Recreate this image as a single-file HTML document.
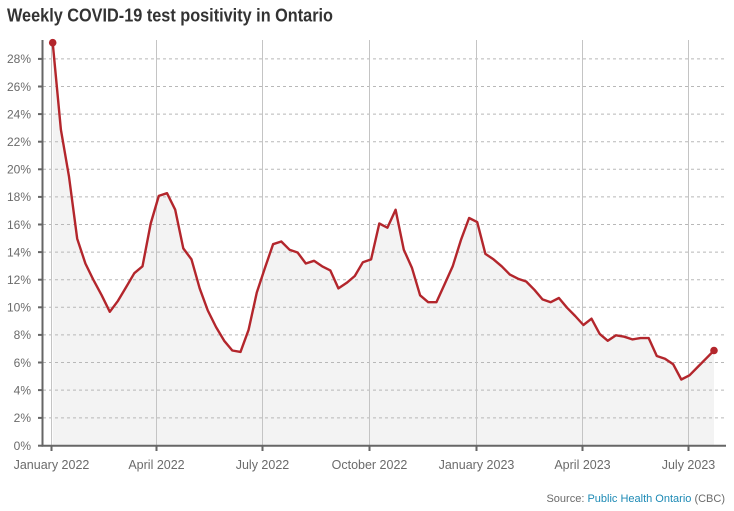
<!DOCTYPE html>
<html><head><meta charset="utf-8"><style>
html,body{margin:0;padding:0;background:#fff;}
svg{display:block;font-family:"Liberation Sans",sans-serif;}
</style></head><body>
<svg width="734" height="511" viewBox="0 0 734 511" xmlns="http://www.w3.org/2000/svg">
<rect width="734" height="511" fill="#fff"/>
<text x="7" y="21.7" font-size="18" font-weight="bold" fill="#333" textLength="326" lengthAdjust="spacingAndGlyphs">Weekly COVID-19 test positivity in Ontario</text>

<polygon fill="#f3f3f3" points="52.7,445.7 52.7,42.7 60.9,129.7 69.0,176.6 77.2,238.7 85.4,263.5 93.5,280.1 101.7,295.3 109.8,311.8 118.0,300.8 126.2,287.0 134.3,273.2 142.5,266.3 150.7,223.5 158.8,195.9 167.0,193.2 175.2,209.7 183.3,248.4 191.5,259.4 199.7,288.4 207.8,310.5 216.0,327.0 224.2,340.8 232.3,350.5 240.5,351.9 248.6,329.8 256.8,292.5 265.0,267.7 273.1,244.2 281.3,241.5 289.5,249.7 297.6,252.5 305.8,263.5 314.0,260.8 322.1,266.3 330.3,270.4 338.4,288.4 346.6,282.9 354.8,276.0 362.9,262.2 371.1,259.4 379.3,223.5 387.4,227.7 395.6,209.7 403.8,249.7 411.9,267.7 420.1,295.3 428.2,302.2 436.4,302.2 444.6,284.2 452.7,266.3 460.9,240.1 469.1,218.0 477.2,222.1 485.4,253.9 493.6,259.4 501.7,266.3 509.9,274.6 518.0,278.7 526.2,281.5 534.4,289.8 542.5,299.4 550.7,302.2 558.9,298.0 567.0,307.7 575.2,316.0 583.4,325.0 591.5,318.7 599.7,333.9 607.8,340.8 616.0,335.3 624.2,336.7 632.3,339.4 640.5,338.1 648.7,338.1 656.8,356.0 665.0,358.8 673.2,364.3 681.3,379.5 689.5,375.3 697.7,367.0 705.8,358.8 714.0,350.5 714.0,445.7"/>

<g stroke="#b8b8b8" stroke-width="1" stroke-dasharray="3,3">
<line x1="43" x2="726" y1="417.9" y2="417.9"/>
<line x1="43" x2="726" y1="390.1" y2="390.1"/>
<line x1="43" x2="726" y1="362.5" y2="362.5"/>
<line x1="43" x2="726" y1="334.9" y2="334.9"/>
<line x1="43" x2="726" y1="307.3" y2="307.3"/>
<line x1="43" x2="726" y1="279.7" y2="279.7"/>
<line x1="43" x2="726" y1="252.1" y2="252.1"/>
<line x1="43" x2="726" y1="224.5" y2="224.5"/>
<line x1="43" x2="726" y1="196.9" y2="196.9"/>
<line x1="43" x2="726" y1="169.3" y2="169.3"/>
<line x1="43" x2="726" y1="141.7" y2="141.7"/>
<line x1="43" x2="726" y1="114.1" y2="114.1"/>
<line x1="43" x2="726" y1="86.5" y2="86.5"/>
<line x1="43" x2="726" y1="58.9" y2="58.9"/>
</g>

<g stroke="#c4c4c4" stroke-width="1">
<line x1="51.5" x2="51.5" y1="40" y2="446"/>
<line x1="156.5" x2="156.5" y1="40" y2="446"/>
<line x1="262.5" x2="262.5" y1="40" y2="446"/>
<line x1="369.5" x2="369.5" y1="40" y2="446"/>
<line x1="476.5" x2="476.5" y1="40" y2="446"/>
<line x1="582.5" x2="582.5" y1="40" y2="446"/>
<line x1="688.5" x2="688.5" y1="40" y2="446"/>
</g>

<polyline fill="none" stroke="#b3262c" stroke-width="2.4" stroke-linejoin="round" points="52.7,42.7 60.9,129.7 69.0,176.6 77.2,238.7 85.4,263.5 93.5,280.1 101.7,295.3 109.8,311.8 118.0,300.8 126.2,287.0 134.3,273.2 142.5,266.3 150.7,223.5 158.8,195.9 167.0,193.2 175.2,209.7 183.3,248.4 191.5,259.4 199.7,288.4 207.8,310.5 216.0,327.0 224.2,340.8 232.3,350.5 240.5,351.9 248.6,329.8 256.8,292.5 265.0,267.7 273.1,244.2 281.3,241.5 289.5,249.7 297.6,252.5 305.8,263.5 314.0,260.8 322.1,266.3 330.3,270.4 338.4,288.4 346.6,282.9 354.8,276.0 362.9,262.2 371.1,259.4 379.3,223.5 387.4,227.7 395.6,209.7 403.8,249.7 411.9,267.7 420.1,295.3 428.2,302.2 436.4,302.2 444.6,284.2 452.7,266.3 460.9,240.1 469.1,218.0 477.2,222.1 485.4,253.9 493.6,259.4 501.7,266.3 509.9,274.6 518.0,278.7 526.2,281.5 534.4,289.8 542.5,299.4 550.7,302.2 558.9,298.0 567.0,307.7 575.2,316.0 583.4,325.0 591.5,318.7 599.7,333.9 607.8,340.8 616.0,335.3 624.2,336.7 632.3,339.4 640.5,338.1 648.7,338.1 656.8,356.0 665.0,358.8 673.2,364.3 681.3,379.5 689.5,375.3 697.7,367.0 705.8,358.8 714.0,350.5"/>
<circle cx="52.7" cy="42.7" r="3.8" fill="#b3262c"/>
<circle cx="714.0" cy="350.5" r="3.8" fill="#b3262c"/>

<g stroke="#666" stroke-width="2">
<line x1="42.5" x2="42.5" y1="40" y2="446.5"/>
<line x1="41.5" x2="726" y1="445.7" y2="445.7"/>
<line x1="38" x2="43" y1="417.9" y2="417.9"/>
<line x1="38" x2="43" y1="390.1" y2="390.1"/>
<line x1="38" x2="43" y1="362.5" y2="362.5"/>
<line x1="38" x2="43" y1="334.9" y2="334.9"/>
<line x1="38" x2="43" y1="307.3" y2="307.3"/>
<line x1="38" x2="43" y1="279.7" y2="279.7"/>
<line x1="38" x2="43" y1="252.1" y2="252.1"/>
<line x1="38" x2="43" y1="224.5" y2="224.5"/>
<line x1="38" x2="43" y1="196.9" y2="196.9"/>
<line x1="38" x2="43" y1="169.3" y2="169.3"/>
<line x1="38" x2="43" y1="141.7" y2="141.7"/>
<line x1="38" x2="43" y1="114.1" y2="114.1"/>
<line x1="38" x2="43" y1="86.5" y2="86.5"/>
<line x1="38" x2="43" y1="58.9" y2="58.9"/>
<line x1="38" x2="43" y1="445.7" y2="445.7"/>
<line x1="51.5" x2="51.5" y1="445" y2="451"/>
<line x1="156.5" x2="156.5" y1="445" y2="451"/>
<line x1="262.5" x2="262.5" y1="445" y2="451"/>
<line x1="369.5" x2="369.5" y1="445" y2="451"/>
<line x1="476.5" x2="476.5" y1="445" y2="451"/>
<line x1="582.5" x2="582.5" y1="445" y2="451"/>
<line x1="688.5" x2="688.5" y1="445" y2="451"/>
</g>

<g font-size="12" fill="#6b6b6b" text-anchor="end">
<text x="31" y="450">0%</text>
<text x="31" y="422.2">2%</text>
<text x="31" y="394.4">4%</text>
<text x="31" y="366.8">6%</text>
<text x="31" y="339.2">8%</text>
<text x="31" y="311.6">10%</text>
<text x="31" y="284">12%</text>
<text x="31" y="256.4">14%</text>
<text x="31" y="228.8">16%</text>
<text x="31" y="201.2">18%</text>
<text x="31" y="173.6">20%</text>
<text x="31" y="146">22%</text>
<text x="31" y="118.4">24%</text>
<text x="31" y="90.8">26%</text>
<text x="31" y="63.2">28%</text>
</g>

<g font-size="12.5" fill="#6b6b6b" text-anchor="middle">
<text x="51.5" y="469">January 2022</text>
<text x="156.5" y="469">April 2022</text>
<text x="262.5" y="469">July 2022</text>
<text x="369.5" y="469">October 2022</text>
<text x="476.5" y="469">January 2023</text>
<text x="582.5" y="469">April 2023</text>
<text x="688.5" y="469">July 2023</text>
</g>

<text x="725" y="502" font-size="11" fill="#6b6b6b" text-anchor="end">Source: <tspan fill="#1d8ab5">Public Health Ontario</tspan> (CBC)</text>
</svg>
</body></html>
